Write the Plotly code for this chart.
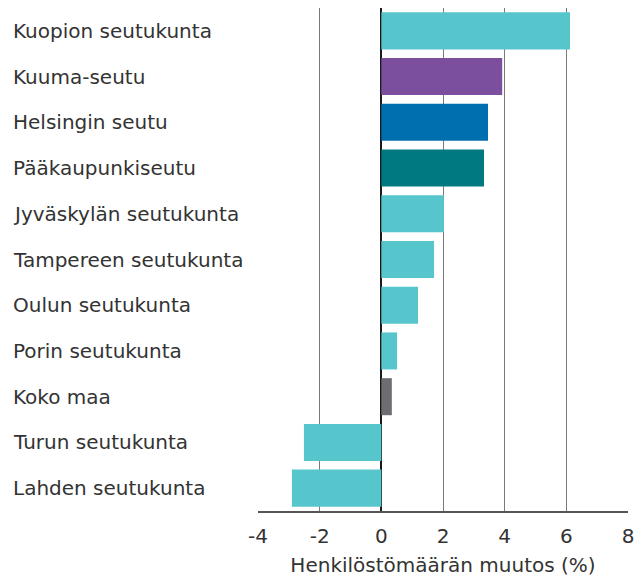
import plotly.graph_objects as go

categories = ["Kuopion seutukunta", "Kuuma-seutu", "Helsingin seutu", "Pääkaupunkiseutu",
              "Jyväskylän seutukunta", "Tampereen seutukunta", "Oulun seutukunta",
              "Porin seutukunta", "Koko maa", "Turun seutukunta", "Lahden seutukunta"]
values = [6.12, 3.92, 3.46, 3.33, 2.03, 1.71, 1.19, 0.51, 0.34, -2.51, -2.90]
colors = ["#56C5CC", "#7B4F9E", "#006FB0", "#007A80", "#56C5CC", "#56C5CC", "#56C5CC",
          "#56C5CC", "#6D6E71", "#56C5CC", "#56C5CC"]
x_ticks = [-4, -2, 0, 2, 4, 6, 8]
x_title = "Henkilöstömäärän muutos (%)"

FONT = "DejaVu Sans"
TXT = "#333333"

fig = go.Figure()
fig.add_trace(go.Bar(
    y=categories, x=values, orientation="h",
    marker=dict(color=colors, line=dict(width=0)),
    width=0.81, hoverinfo="x+y",
))

annotations = [
    dict(x=-0.6676, xref="paper", y=c, yref="y", text=c, showarrow=False,
         xanchor="left", yanchor="middle", font=dict(family=FONT, size=20, color=TXT))
    for c in categories
]

fig.update_layout(
    width=635, height=569,
    margin=dict(l=250, r=15, t=0, b=66, autoexpand=False),
    paper_bgcolor="white", plot_bgcolor="white",
    showlegend=False,
    annotations=annotations,
    xaxis=dict(
        range=[-4, 8], tickvals=x_ticks, ticktext=[str(t) for t in x_ticks],
        showgrid=True, gridcolor="#7a7a7a", gridwidth=1,
        zeroline=True, zerolinecolor="#1a1a1a", zerolinewidth=2,
        showline=True, linecolor="#555555", linewidth=2,
        ticks="", tickfont=dict(family=FONT, size=20, color=TXT),
        ticklabelstandoff=6,
        title=dict(text=x_title, font=dict(family=FONT, size=20, color=TXT), standoff=12),
        fixedrange=True, automargin=False,
    ),
    yaxis=dict(
        categoryorder="array", categoryarray=categories,
        autorange="reversed",
        showticklabels=False, ticks="", showgrid=False,
        showline=False, zeroline=False, fixedrange=True,
    ),
)

fig.write_html("out.html")
